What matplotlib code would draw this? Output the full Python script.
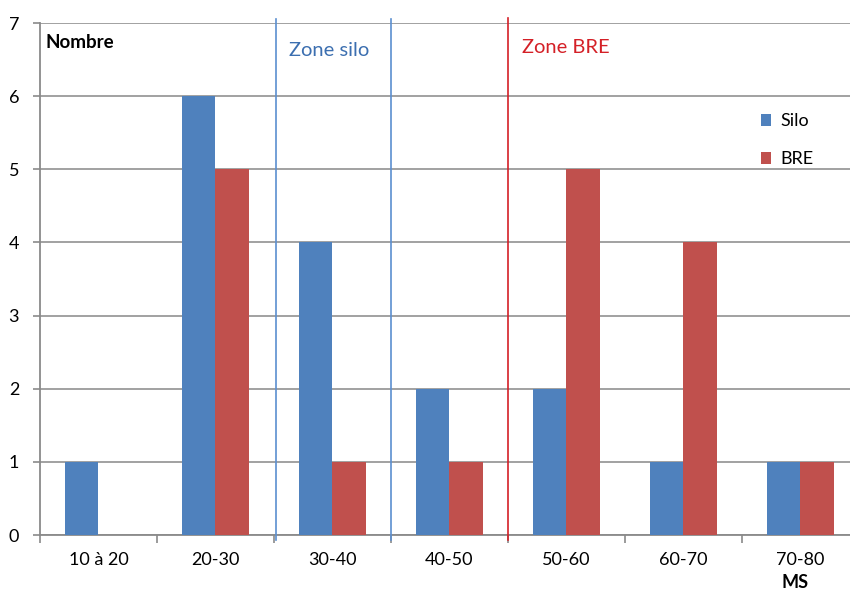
import matplotlib
matplotlib.use("Agg")
import matplotlib.pyplot as plt
import numpy as np

plt.rcParams['font.family'] = ['Lato', 'DejaVu Sans']

classes = ["10 à 20", "20-30", "30-40", "40-50", "50-60", "60-70", "70-80"]
silo = [1, 6, 4, 2, 2, 1, 1]
bre = [0, 5, 1, 1, 5, 4, 1]

blue = "#4F81BD"
red = "#C0504D"

fig = plt.figure(figsize=(8.5, 5.92), dpi=100)
ax = fig.add_axes([40 / 850, 1 - 535 / 592, 819 / 850, 512 / 592])

x = np.arange(len(classes))
w = 0.29
ax.bar(x - w / 2, silo, w, color=blue, label="Silo", zorder=3)
ax.bar(x + w / 2, bre, w, color=red, label="BRE", zorder=3)

ax.set_xlim(-0.5, 6.5)
ax.set_ylim(0, 7)
ax.set_yticks(range(8))
ax.yaxis.grid(True, color="#9a9a9a", linewidth=1.3, zorder=0)
ax.set_axisbelow(True)

ax.set_xticks(np.arange(-0.5, 7.0, 1.0), minor=False)
ax.set_xticklabels([])
ax.set_xticks(x, minor=True)
ax.set_xticklabels(classes, minor=True, fontsize=13)
ax.tick_params(axis="x", which="major", length=6, color="#8a8a8a", width=1.2)
ax.tick_params(axis="x", which="minor", length=0, pad=12)
ax.tick_params(axis="y", length=5, color="#8a8a8a", width=1.2, labelsize=13, pad=10)

for side in ["top", "right"]:
    ax.spines[side].set_visible(False)
for side in ["left", "bottom"]:
    ax.spines[side].set_color("#8a8a8a")
    ax.spines[side].set_linewidth(1.3)

# limites des zones
ax.plot([1.52, 1.52], [-0.07, 7.05], color="#5b8fd0", linewidth=1.2, clip_on=False, zorder=4)
ax.plot([2.5, 2.5], [-0.07, 7.05], color="#5b8fd0", linewidth=1.2, clip_on=False, zorder=4)
ax.plot([3.5, 3.5], [-0.07, 7.07], color="#d42027", linewidth=1.2, clip_on=False, zorder=4)

ax.text(1.63, 6.62, "Zone silo", color="#3c6fb0", fontsize=14.5, va="center")
ax.text(3.62, 6.67, "Zone BRE", color="#d42027", fontsize=14.5, va="center")
ax.text(-0.45, 6.74, "Nombre", fontsize=13.5, fontweight="bold", va="center")
ax.text(5.95, -0.655, "MS", fontsize=13, fontweight="bold", ha="center", va="center", clip_on=False)

ax.legend(loc="upper left", bbox_to_anchor=(0.86, 0.855), frameon=False, fontsize=13,
          handlelength=0.6, handleheight=0.6, handletextpad=0.5, labelspacing=1.2)

fig.savefig("out.png", dpi=100)
